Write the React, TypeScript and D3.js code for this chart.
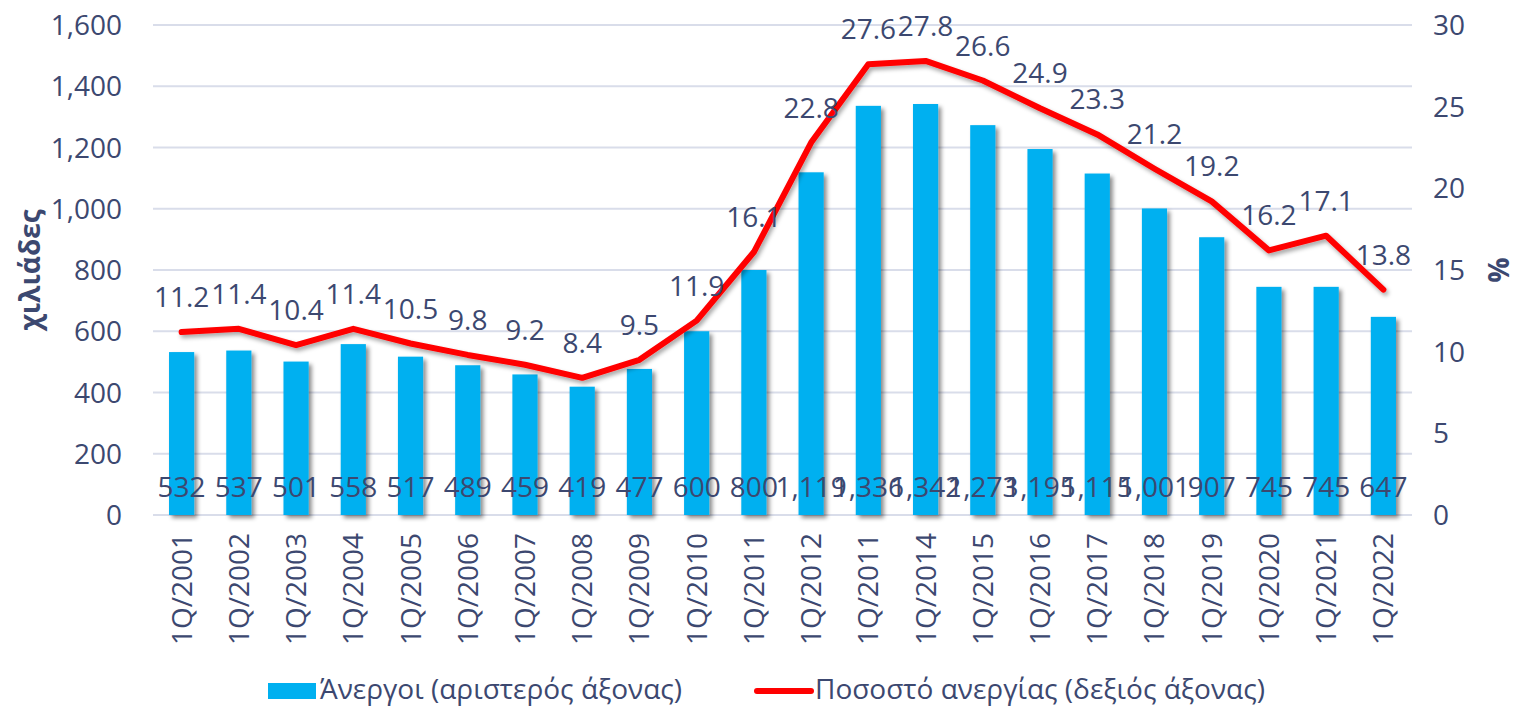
import React from "react";
import * as d3 from "d3";

const categories = ["1Q/2001","1Q/2002","1Q/2003","1Q/2004","1Q/2005","1Q/2006","1Q/2007","1Q/2008","1Q/2009","1Q/2010","1Q/2011","1Q/2012","1Q/2011","1Q/2014","1Q/2015","1Q/2016","1Q/2017","1Q/2018","1Q/2019","1Q/2020","1Q/2021","1Q/2022"];
const unemployed = [532,537,501,558,517,489,459,419,477,600,800,1119,1336,1342,1273,1195,1115,1001,907,745,745,647];
const rate = [11.2,11.4,10.4,11.4,10.5,9.8,9.2,8.4,9.5,11.9,16.1,22.8,27.6,27.8,26.6,24.9,23.3,21.2,19.2,16.2,17.1,13.8];
const leftTicks = [0,200,400,600,800,1000,1200,1400,1600];
const rightTicks = [0,5,10,15,20,25,30];
const barLegend = "Άνεργοι (αριστερός άξονας)";
const lineLegend = "Ποσοστό ανεργίας (δεξιός άξονας)";
const leftTitle = "χιλιάδες";
const rightTitle = "%";

const W = 1517, H = 708;
const left = 153, right = 1412, top = 25, bottom = 515;
const TXT = "#3C4870";
const FONT = "'Open Sans', sans-serif";
const FS = 28;

export default function App() {
  const idx = categories.map((_, i) => i);
  const x = d3.scaleBand<number>().domain(idx).range([left, right]).paddingInner(0.56).paddingOuter(0.28);
  const yL = d3.scaleLinear().domain([0, 1600]).range([bottom, top]);
  const yR = d3.scaleLinear().domain([0, 30]).range([bottom, top]);
  const cx = (i: number) => (x(i) as number) + x.bandwidth() / 2;
  const line = d3.line<number>().x((_, i) => cx(i)).y((d) => yR(d));
  const fmt = d3.format(",");

  return (
    <svg width={W} height={H} style={{ position: "absolute", left: 0, top: 0, background: "#fff" }} fontFamily={FONT}>
      <defs>
        <filter id="shadow" x="-30%" y="-10%" width="160%" height="130%">
          <feDropShadow dx="3" dy="3" stdDeviation="2" floodColor="#000" floodOpacity="0.45" />
        </filter>
        <filter id="lshadow" x="-10%" y="-10%" width="120%" height="130%">
          <feDropShadow dx="2" dy="3" stdDeviation="2" floodColor="#000" floodOpacity="0.35" />
        </filter>
      </defs>
      {leftTicks.map((t) => (
        <line key={"g" + t} x1={left} x2={right} y1={yL(t)} y2={yL(t)} stroke="#D9DDEA" strokeWidth={2} />
      ))}
      {leftTicks.map((t) => (
        <text key={"l" + t} x={122} y={yL(t)} dy="0.36em" textAnchor="end" fontSize={FS} fill={TXT}>{fmt(t)}</text>
      ))}
      {rightTicks.map((t) => (
        <text key={"r" + t} x={1433} y={yR(t)} dy="0.36em" textAnchor="start" fontSize={FS} fill={TXT}>{t}</text>
      ))}
      <text transform={`translate(40,270) rotate(-90)`} textAnchor="middle" fontSize={FS} fontWeight="bold" fill={TXT}>{leftTitle}</text>
      <text transform={`translate(1488,270) rotate(90)`} textAnchor="middle" fontSize={FS} fontWeight="bold" fill={TXT}>{rightTitle}</text>
      <g filter="url(#shadow)">
        {unemployed.map((v, i) => (
          <rect key={"b" + i} x={x(i)} y={yL(v)} width={x.bandwidth()} height={bottom - yL(v)} fill="#00B0F0" />
        ))}
      </g>
      <path d={line(rate) || ""} fill="none" stroke="#FF0000" strokeWidth={6} strokeLinejoin="round" strokeLinecap="round" filter="url(#lshadow)" />
      {unemployed.map((v, i) => (
        <text key={"bl" + i} x={cx(i)} y={497} textAnchor="middle" fontSize={FS} fill={TXT}>{fmt(v)}</text>
      ))}
      {rate.map((v, i) => (
        <text key={"rl" + i} x={cx(i)} y={yR(v) - 25} textAnchor="middle" fontSize={FS} fill={TXT}>{v.toFixed(1)}</text>
      ))}
      {categories.map((c, i) => (
        <text key={"c" + i} transform={`translate(${cx(i) + 10},533) rotate(-90)`} textAnchor="end" fontSize={FS} fill={TXT}>{c}</text>
      ))}
      <rect x={268} y={683} width={48} height={16} fill="#00B0F0" />
      <text x={320} y={699} fontSize={FS} fill={TXT}>{barLegend}</text>
      <line x1={757} x2={811} y1={691} y2={691} stroke="#FF0000" strokeWidth={6} strokeLinecap="round" />
      <text x={815} y={699} fontSize={FS} fill={TXT}>{lineLegend}</text>
    </svg>
  );
}
